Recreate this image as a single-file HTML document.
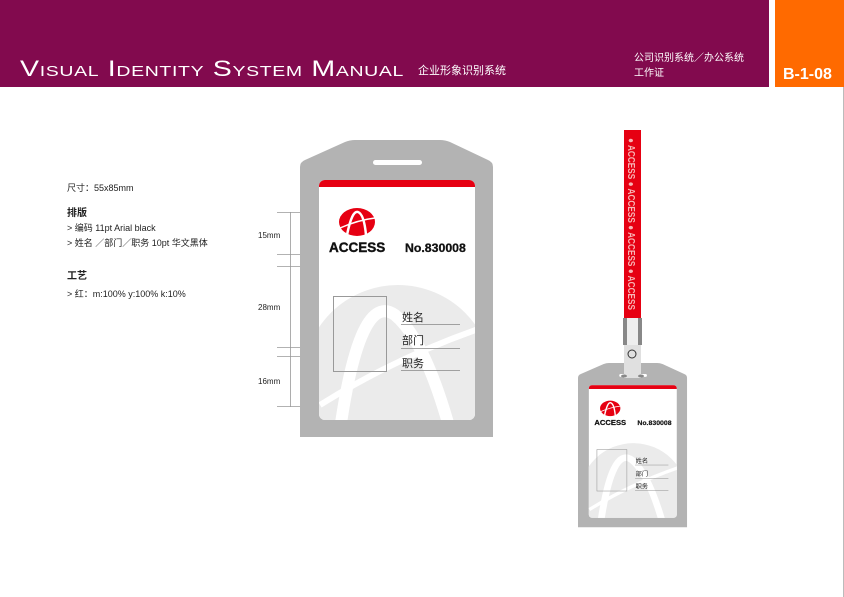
<!DOCTYPE html>
<html><head><meta charset="utf-8"><style>
body{margin:0;width:844px;height:597px;overflow:hidden;background:#fff}
svg{display:block}
text{font-family:"Liberation Sans","Noto Sans CJK SC",sans-serif}
</style></head><body>
<svg width="844" height="597" viewBox="0 0 844 597" xmlns="http://www.w3.org/2000/svg">
<defs>
<g id="badge">
  <path d="M0,27 Q0,22 5,20 L45,2 Q50,0 55,0 L140,0 Q145,0 150,2 L188,20 Q193,22 193,27 L193,297 L0,297 Z" fill="#b3b3b3"/>
  <rect x="73" y="20" width="49" height="5" rx="2.5" fill="#fff"/>
  <clipPath id="cc"><rect x="19" y="40" width="156" height="240" rx="6"/></clipPath>
  <g clip-path="url(#cc)">
    <rect x="19" y="40" width="156" height="240" fill="#fff"/>
    <circle cx="98" cy="240" r="95" fill="#ebebeb"/>
    <path d="M40,290 Q60,150 95,175 Q125,200 150,290" fill="none" stroke="#fff" stroke-width="12"/>
    <path d="M20,265 Q100,215 190,185" fill="none" stroke="#fff" stroke-width="6"/>
    <rect x="19" y="40" width="156" height="7" fill="#e60012"/>
  </g>
  <ellipse cx="57" cy="82" rx="18" ry="14" fill="#e60012"/>
  <path d="M47,95 Q52,70 58,72 Q64,74 66,95" fill="none" stroke="#fff" stroke-width="2.5"/>
  <path d="M40,88 Q58,80 75,78" fill="none" stroke="#fff" stroke-width="1.5"/>
  <text x="29" y="112" font-size="13.5" font-weight="bold" fill="#111" stroke="#111" stroke-width="0.4">ACCESS</text>
  <text x="105" y="112" font-size="12.3" font-weight="bold" fill="#111" stroke="#111" stroke-width="0.3">No.830008</text>
  <rect x="33.5" y="156.5" width="53" height="75" fill="none" stroke="#999" stroke-width="1"/>
  <text x="102" y="181" font-size="11" fill="#222">姓名</text>
  <text x="102" y="204" font-size="11" fill="#222">部门</text>
  <text x="102" y="227" font-size="11" fill="#222">职务</text>
  <path d="M101,184.5H160M101,208.5H160M101,230.5H160" stroke="#888" stroke-width="0.8"/>
</g>
</defs>
<rect x="0" y="0" width="769" height="87" fill="#820a4e"/>
<rect x="775" y="0" width="69" height="87" fill="#ff6a00"/>
<line x1="843.5" y1="87" x2="843.5" y2="597" stroke="#bbb"/>
<text x="20" y="76" font-size="22" fill="#fff" style="font-variant:small-caps;letter-spacing:0.5px" textLength="384" lengthAdjust="spacingAndGlyphs">Visual Identity System Manual</text>
<text x="418" y="74" font-size="11" fill="#fff">企业形象识别系统</text>
<text x="634" y="61" font-size="10" fill="#fff">公司识别系统／办公系统</text>
<text x="634" y="76" font-size="10" fill="#fff">工作证</text>
<text x="783" y="79" font-size="16" font-weight="bold" fill="#fff">B-1-08</text>

<g font-size="9" fill="#222">
<text x="67" y="191">尺寸：55x85mm</text>
<text x="67" y="216" font-weight="bold" font-size="10">排版</text>
<text x="67" y="231">&gt; 编码  11pt   Arial black</text>
<text x="67" y="246">&gt; 姓名 ／部门／职务  10pt   华文黑体</text>
<text x="67" y="279" font-weight="bold" font-size="10">工艺</text>
<text x="67" y="297">&gt;  红：m:100%  y:100% k:10%</text>
<text x="258" y="238" font-size="8">15mm</text>
<text x="258" y="310" font-size="8">28mm</text>
<text x="258" y="384" font-size="8">16mm</text>
</g>
<path d="M290.5,212V407M277,212.5H300M277,254.5H300M277,266.5H300M277,347.5H300M277,356.5H300M277,406.5H300" stroke="#999" stroke-width="0.8"/>

<use href="#badge" x="0" y="0" transform="translate(300,140)"/>

<rect x="624" y="130" width="17" height="189" fill="#e60012"/>
<g transform="translate(628,138) rotate(90)" fill="#f7b5b5" font-size="10" font-weight="bold">
<text x="0" y="0" textLength="172" lengthAdjust="spacingAndGlyphs">● ACCESS ● ACCESS ● ACCESS ● ACCESS</text>
</g>
<g transform="translate(578,363) scale(0.565,0.553)"><use href="#badge"/></g>
<rect x="623" y="318" width="19" height="27" fill="#888"/>
<rect x="627" y="318" width="11" height="27" fill="#eee"/>
<rect x="624" y="345" width="17" height="33" fill="#e0e0e0"/>
<circle cx="632" cy="354" r="4" fill="none" stroke="#333" stroke-width="1"/>
<ellipse cx="624" cy="376" rx="3" ry="1.5" fill="#888"/>
<ellipse cx="641" cy="376" rx="3" ry="1.5" fill="#888"/>
</svg>
</body></html>
